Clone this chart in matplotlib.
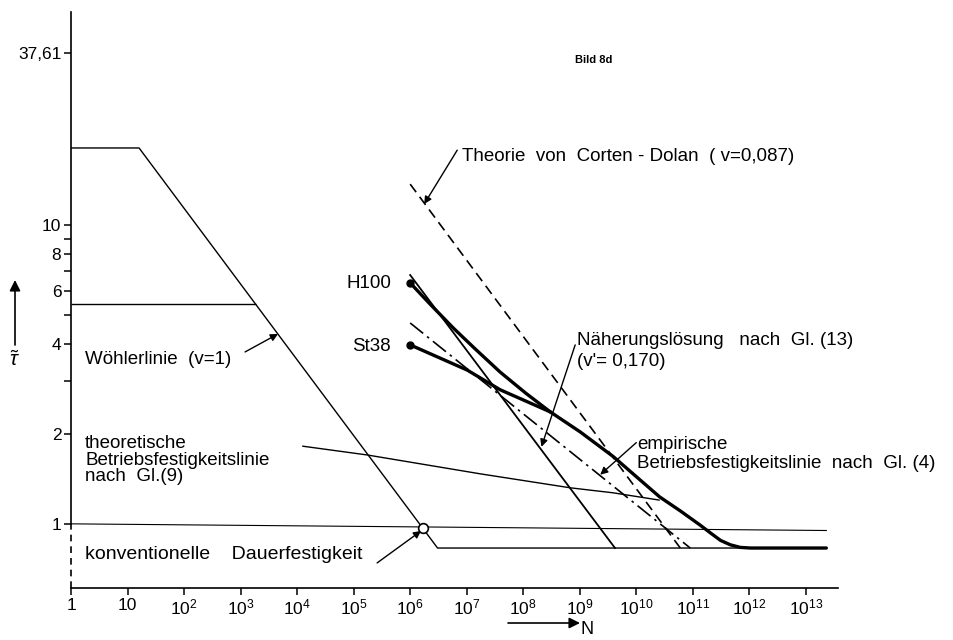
import matplotlib

matplotlib.use("Agg")
import matplotlib.pyplot as plt

plt.rcParams["font.family"] = ["Liberation Sans", "DejaVu Sans"]
plt.rcParams["mathtext.fontset"] = "custom"
plt.rcParams["mathtext.rm"] = "Liberation Sans"
plt.rcParams["mathtext.it"] = "Liberation Sans:italic"

# --- values (N = load cycles, y = relative stress amplitude)
x_ticks = [1, 1e1, 1e2, 1e3, 1e4, 1e5, 1e6, 1e7, 1e8, 1e9, 1e10, 1e11, 1e12, 1e13]
x_tick_labels = ["1", "10"] + [f"$10^{{{k}}}$" for k in range(2, 14)]
y_ticks = [1, 2, 4, 6, 8, 10, 37.61]
y_tick_labels = ["1", "2", "4", "6", "8", "10", "37,61"]
y_minor_ticks = [3, 5, 7, 9]

# upper Woehler line with knee and conventional endurance limit
woehler_hi_n = [1, 16, 3.05e6, 2.3e13]
woehler_hi_y = [18.1, 18.1, 0.83, 0.83]
# Woehlerlinie (v=1) plateau, joins the same slope
woehler_lo_n = [1, 1870]
woehler_lo_y = [5.42, 5.42]
# reference level 1
unity_n = [1, 2.3e13]
unity_y = [1.0, 0.95]
# theoretische Betriebsfestigkeitslinie nach Gl.(9)
theo_n = [1.23e4, 1.74e5, 1.74e7, 6.8e8, 3.9e9, 2.6e10]
theo_y = [1.82, 1.70, 1.47, 1.32, 1.27, 1.20]
# Corten-Dolan (dashed)
corten_n = [1e6, 6.0e10]
corten_y = [13.7, 0.83]
# H100 thin straight line
h100_n = [1e6, 4.2e9]
h100_y = [6.8, 0.83]
# Naeherungsloesung (dash-dot)
naeh_n = [1e6, 9e10]
naeh_y = [4.70, 0.83]
# empirical thick curves
h100_thick_n = [1e6, 2.24e6, 5.8e6, 1.41e7, 3.9e7, 1.1e8, 3.0e8]
h100_thick_y = [6.4, 5.44, 4.52, 3.85, 3.22, 2.74, 2.37]
st38_thick_n = [1e6, 1.02e7, 3.9e7, 3.0e8]
st38_thick_y = [3.97, 3.27, 2.81, 2.37]
emp_n = [3.0e8, 1.02e9, 3.9e9, 1.18e10, 2.6e10, 6.0e10, 1.35e11, 2.04e11, 3.1e11,
         4.6e11, 6.9e11, 1.05e12, 2.3e13]
emp_y = [2.37, 2.03, 1.68, 1.40, 1.23, 1.105, 0.99, 0.933, 0.88,
         0.851, 0.834, 0.83, 0.83]
# intersection of Woehler line with level 1
cross_n = [1.7e6]
cross_y = [0.97]

fig = plt.figure(figsize=(9.54, 6.4), dpi=100)
ax = fig.add_axes([71 / 954, 52 / 640, 767 / 954, 576 / 640])
ax.set_xscale("log")
ax.set_yscale("log")
ax.set_xlim(1, 3.7e13)
ax.set_ylim(0.61, 51.6)

thin = dict(color="black", lw=1.0, solid_capstyle="butt")
thick = dict(color="black", lw=2.4, solid_capstyle="round", solid_joinstyle="round")

ax.plot(woehler_hi_n, woehler_hi_y, **thin)
ax.plot(woehler_lo_n, woehler_lo_y, **thin)
ax.plot(unity_n, unity_y, color="black", lw=0.8)
ax.plot(theo_n, theo_y, **thin)
ax.plot(corten_n, corten_y, color="black", lw=1.2, dashes=(6, 3.5))
ax.plot(h100_n, h100_y, color="black", lw=1.3)
ax.plot(naeh_n, naeh_y, color="black", lw=1.2, dashes=(10, 3, 1.5, 3))
ax.plot(h100_thick_n, h100_thick_y, **thick)
ax.plot(st38_thick_n, st38_thick_y, **thick)
ax.plot(emp_n, emp_y, **thick)
ax.plot([h100_thick_n[0], st38_thick_n[0]], [h100_thick_y[0], st38_thick_y[0]],
        ls="none", marker="o", ms=5, color="black")
ax.plot(cross_n, cross_y, ls="none", marker="o", ms=7, mfc="white", mec="black", mew=1.2, zorder=5)

# axes styling
for side in ("top", "right"):
  ax.spines[side].set_visible(False)
ax.spines["left"].set_bounds(1, 51.6)
ax.spines["left"].set_linewidth(1.2)
ax.spines["bottom"].set_linewidth(1.2)
ax.plot([1, 1], [0.61, 1], color="black", lw=1.2, dashes=(4, 3), clip_on=False)

ax.set_xticks(x_ticks)
ax.set_xticklabels(x_tick_labels)
ax.xaxis.set_minor_locator(matplotlib.ticker.NullLocator())
ax.set_yticks(y_ticks)
ax.set_yticklabels(y_tick_labels)
ax.set_yticks(y_minor_ticks, minor=True)
ax.yaxis.set_minor_formatter(matplotlib.ticker.NullFormatter())
ax.tick_params(axis="both", which="both", direction="out", length=5, width=1.1, labelsize=12.5, pad=2)

fs = 13.5
arrow = dict(arrowstyle="-|>", color="black", lw=1, mutation_scale=11, shrinkA=0, shrinkB=0)
ax.text(1.77, 3.56, "Wöhlerlinie  (v=1)", fontsize=fs, va="center")
ax.annotate("", xy=(4600, 4.32), xytext=(1200, 3.76), arrowprops=arrow)
ax.text(1.77, 1.98, "theoretische\nBetriebsfestigkeitslinie\nnach  Gl.(9)", fontsize=fs, va="top",
        linespacing=0.95)
ax.text(1.77, 0.787, "konventionelle    Dauerfestigkeit", fontsize=fs + 0.5, va="center")
ax.annotate("", xy=(1.56e6, 0.947), xytext=(2.6e5, 0.74), arrowprops=arrow)
ax.text(1.87e5, 6.35, "H100", fontsize=fs, ha="center", va="center")
ax.text(2.1e5, 3.91, "St38", fontsize=fs, ha="center", va="center")
ax.text(8.3e6, 16.9, "Theorie  von  Corten - Dolan  ( v=0,087)", fontsize=fs, va="center")
ax.annotate("", xy=(1.77e6, 11.75), xytext=(6.8e6, 17.8), arrowprops=arrow)
ax.text(9.1e8, 4.12, "Näherungslösung   nach  Gl. (13)", fontsize=fs, va="center")
ax.text(9.1e8, 3.48, "(v'= 0,170)", fontsize=fs, va="center")
ax.annotate("", xy=(2.1e8, 1.81), xytext=(8.3e8, 3.97), arrowprops=arrow)
ax.text(1.05e10, 1.84, "empirische", fontsize=fs, va="center")
ax.text(1.05e10, 1.59, "Betriebsfestigkeitslinie  nach  Gl. (4)", fontsize=fs, va="center")
ax.annotate("", xy=(2.3e9, 1.46), xytext=(1.0e10, 1.87), arrowprops=arrow)
ax.text(8.3e8, 35.6, "Bild 8d", fontsize=8, fontweight="bold", va="center")

# axis labels drawn as in the original sketch: arrow + symbol
fig.text(14 / 954, 1 - 360 / 640, r"$\tilde{\tau}$", fontsize=15, ha="center", va="center")
ax.annotate("", xy=(15, 640 - 280), xytext=(15, 640 - 345), xycoords="figure pixels",
            textcoords="figure pixels",
            arrowprops=dict(arrowstyle="-|>", color="black", lw=1.2, mutation_scale=16, shrinkA=0, shrinkB=0))
ax.annotate("", xy=(580, 640 - 623), xytext=(508, 640 - 623), xycoords="figure pixels",
            textcoords="figure pixels",
            arrowprops=dict(arrowstyle="-|>", color="black", lw=1.2, mutation_scale=16, shrinkA=0, shrinkB=0))
fig.text(581 / 954, 1 - 630 / 640, "N", fontsize=13, ha="left", va="center")

fig.savefig("out.png", dpi=100)
plt.close(fig)
